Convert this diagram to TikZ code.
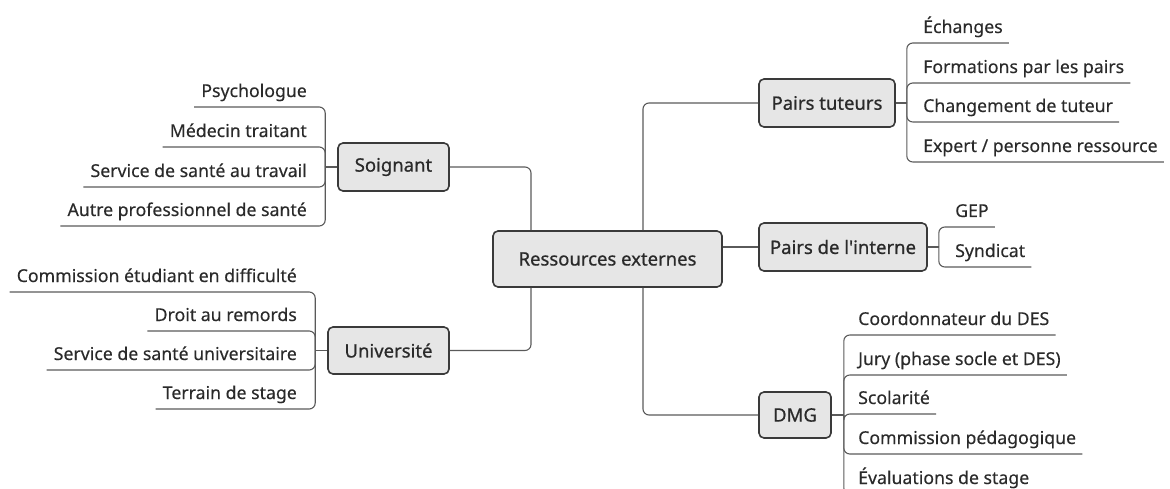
\documentclass[tikz,border=0pt]{standalone}
\usepackage{fontspec}
\setmainfont{Noto Sans}[FakeBold=0.25]
\newfontfamily\topicfamily{Noto Sans}[FakeBold=0.7]
\definecolor{linec}{HTML}{5A5A5A}
\definecolor{boxc}{HTML}{3A3A3A}
\definecolor{boxfill}{HTML}{E6E6E6}
\definecolor{textc}{HTML}{2A2A2A}
\tikzset{
  topic/.style={draw=boxc, fill=boxfill, line width=1.6pt, rounded corners=5pt, inner sep=0pt, font=\topicfamily\fontsize{18.5}{22}\selectfont, text=textc},
  leaf/.style={inner sep=0pt, font=\fontsize{17.7}{21}\selectfont, text=textc},
  link/.style={draw=linec, line width=1.1pt, rounded corners=6pt},
  stub/.style={draw=linec, line width=1.1pt},
}
\begin{document}
\begin{tikzpicture}[x=1pt,y=-1pt]
\useasboundingbox (0,0) rectangle (1170,489);
\clip (0,0) rectangle (1170,489);
% main
\node[topic, minimum width=229pt, minimum height=56pt] (main) at (607.5,259) {Ressources externes};
% topics
\node[topic, minimum width=111pt, minimum height=48pt] (soi) at (393.5,167) {Soignant};
\node[topic, minimum width=121pt, minimum height=47pt] (uni) at (388.5,350.5) {Université};
\node[topic, minimum width=136pt, minimum height=48pt] (pt) at (827,103) {Pairs tuteurs};
\node[topic, minimum width=168pt, minimum height=48pt] (pi) at (843,247) {Pairs de l\symbol{39}interne};
\node[topic, minimum width=72pt, minimum height=46pt] (dmg) at (795,415) {DMG};
% main connectors
\draw[link] (soi.east) -| ([xshift=-76.5pt]main.north);
\draw[link] (uni.east) -| ([xshift=-76.5pt]main.south);
\draw[link] ([xshift=35.5pt]main.north) |- (pt.west);
\draw[link] ([xshift=35.5pt]main.south) |- (dmg.west);
\draw[stub] (pi.west) -- (pi.west -| main.east);
% Soignant leaves
\node[leaf, anchor=base east] (s1) at (307,97) {Psychologue};
\node[leaf, anchor=base east] (s2) at (307,137) {Médecin traitant};
\node[leaf, anchor=base east] (s3) at (307,177) {Service de santé au travail};
\node[leaf, anchor=base east] (s4) at (307,216) {Autre professionnel de santé};
\draw[stub] (soi.west) -- ++(-12,0) coordinate (sb);
\foreach \n in {s1,s2,s3,s4}
  \draw[link] (sb) |- ([xshift=-7pt,yshift=-10pt]\n.base west);
% Universite leaves
\node[leaf, anchor=base east] (u1) at (297,282) {Commission étudiant en difficulté};
\node[leaf, anchor=base east] (u2) at (297,321) {Droit au remords};
\node[leaf, anchor=base east] (u3) at (297,360) {Service de santé universitaire};
\node[leaf, anchor=base east] (u4) at (297,399) {Terrain de stage};
\draw[stub] (uni.west) -- ++(-12,0) coordinate (ub);
\foreach \n in {u1,u2,u3,u4}
  \draw[link] (ub) |- ([xshift=-7pt,yshift=-10pt]\n.base west);
% Pairs tuteurs leaves
\node[leaf, anchor=base west] (p1) at (923,33) {Échanges};
\node[leaf, anchor=base west] (p2) at (923,73) {Formations par les pairs};
\node[leaf, anchor=base west] (p3) at (923,112) {Changement de tuteur};
\node[leaf, anchor=base west] (p4) at (923,152) {Expert / personne ressource};
\draw[stub] (pt.east) -- ++(11,0) coordinate (pb);
\foreach \n in {p1,p2,p3,p4}
  \draw[link] (pb) |- ([xshift=6pt,yshift=-10pt]\n.base east);
% Pairs de l'interne leaves
\node[leaf, anchor=base west] (i1) at (955,217) {GEP};
\node[leaf, anchor=base west] (i2) at (955,257) {Syndicat};
\draw[stub] (pi.east) -- ++(11,0) coordinate (ib);
\foreach \n in {i1,i2}
  \draw[link] (ib) |- ([xshift=6pt,yshift=-10pt]\n.base east);
% DMG leaves
\node[leaf, anchor=base west] (d1) at (858,325) {Coordonnateur du DES};
\node[leaf, anchor=base west] (d2) at (858,365) {Jury (phase socle et DES)};
\node[leaf, anchor=base west] (d3) at (858,404) {Scolarité};
\node[leaf, anchor=base west] (d4) at (858,444) {Commission pédagogique};
\node[leaf, anchor=base west] (d5) at (858,484) {Évaluations de stage};
\draw[stub] (dmg.east) -- ++(12,0) coordinate (db);
\foreach \n in {d1,d2,d3,d4,d5}
  \draw[link] (db) |- ([xshift=6pt,yshift=-10pt]\n.base east);
\end{tikzpicture}
\end{document}
